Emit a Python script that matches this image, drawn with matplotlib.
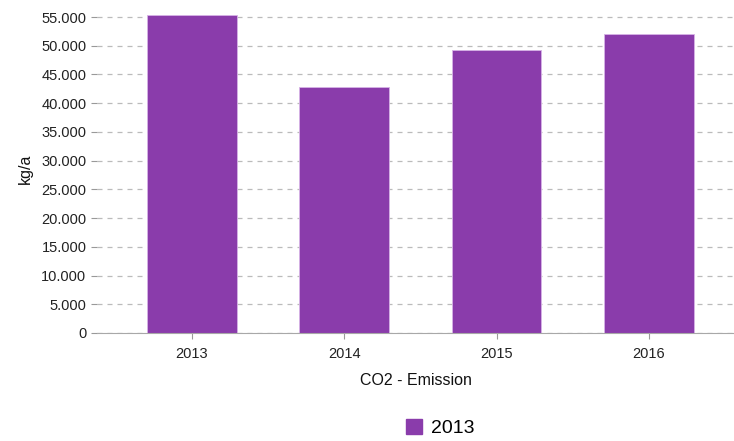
import matplotlib.pyplot as plt
from matplotlib.ticker import FuncFormatter, MultipleLocator
from matplotlib.patches import Patch

years = ['2013', '2014', '2015', '2016']
emission = [55350, 42850, 49250, 52050]
series_name = '2013'

plt.rcParams['font.family'] = ['Liberation Sans', 'DejaVu Sans']

fig = plt.figure(figsize=(7.34, 4.41), dpi=100)
ax = fig.add_axes([0.132, 0.245, 0.868, 0.7425])

purple = '#8a3cab'
x = range(len(years))
ax.bar(x, emission, width=0.59, color=purple, edgecolor='#d7b3e6', linewidth=0.6, zorder=2)

ax.set_xlim(-0.625, 3.56)
ax.set_ylim(0, 57000)
ax.set_xticks(list(x))
ax.set_xticklabels(years)
ax.yaxis.set_major_locator(MultipleLocator(5000))
ax.yaxis.set_major_formatter(FuncFormatter(lambda v, p: f'{int(v):,}'.replace(',', '.')))

ax.grid(axis='y', linestyle=(0, (4, 4)), color='#bbbbbb', linewidth=0.9, zorder=0)
for s in ['top', 'right', 'left']:
    ax.spines[s].set_visible(False)
ax.spines['bottom'].set_color('#a8a8a8')
ax.tick_params(axis='both', colors='#999999', labelcolor='#222222', labelsize=10.5, length=4)
ax.tick_params(axis='x', pad=6)

ax.set_ylabel('kg/a', fontsize=11.5, color='#111111', labelpad=6)
ax.set_xlabel('CO2 - Emission', fontsize=11.5, color='#111111', labelpad=9)

fig.legend(handles=[Patch(color=purple, label=series_name)], loc='center',
           bbox_to_anchor=(0.6, 0.03), frameon=False, fontsize=14,
           handlelength=0.8, handleheight=0.8, handletextpad=0.5)

fig.savefig('out.png', dpi=100)
